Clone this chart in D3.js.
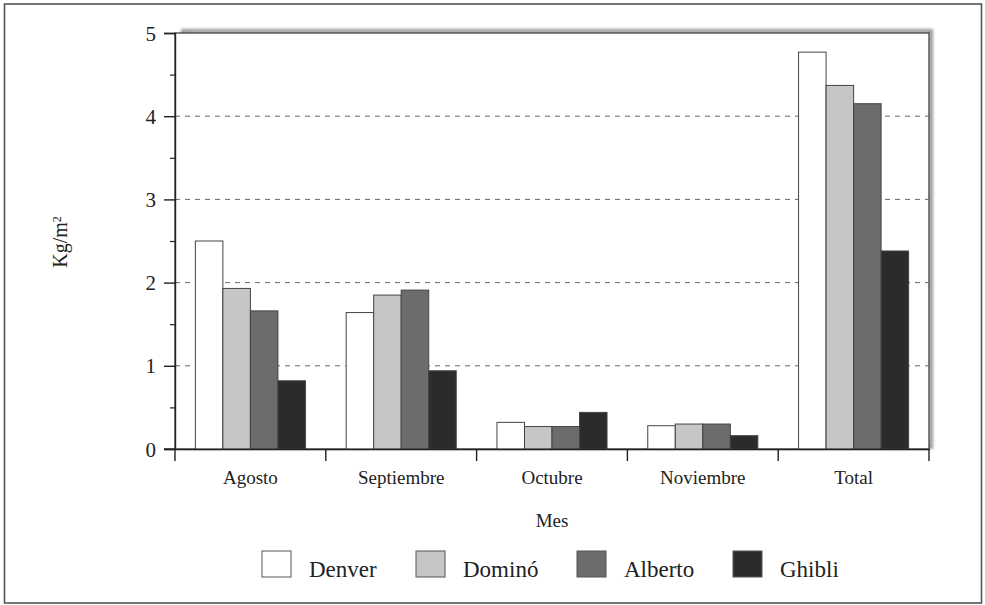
<!DOCTYPE html>
<html>
<head>
<meta charset="utf-8">
<script src="https://cdn.jsdelivr.net/npm/d3@7"></script>
<style>
  body { margin: 0; background: #fff; }
  svg { display: block; }
</style>
</head>
<body>
<script>
var width = 985;
var height = 605;
var serif = "'Liberation Serif', 'DejaVu Serif', 'Times New Roman', serif";

var months = ["Agosto", "Septiembre", "Octubre", "Noviembre", "Total"];
var varieties = ["Denver", "Dominó", "Alberto", "Ghibli"];
var colors = ["#ffffff", "#c6c6c6", "#6c6c6c", "#2b2b2b"];

// kg/m2 per variety, one value per month
var denver  = [2.50, 1.64, 0.32, 0.28, 4.77];
var domino  = [1.93, 1.85, 0.27, 0.30, 4.37];
var alberto = [1.66, 1.91, 0.27, 0.30, 4.15];
var ghibli  = [0.82, 0.94, 0.44, 0.16, 2.38];

var yTicks = [0, 1, 2, 3, 4, 5];
var yMinor = [0.5, 1.5, 2.5, 3.5, 4.5];

var series = [denver, domino, alberto, ghibli];

var margin = {left: 175, right: 55, top: 33, bottom: 156};

var svg = d3.select("body").append("svg")
    .attr("width", width)
    .attr("height", height)
    .attr("font-family", serif);

var defs = svg.append("defs");
var blur = defs.append("filter").attr("id", "shadow")
    .attr("x", "-5%").attr("y", "-5%").attr("width", "110%").attr("height", "110%");
blur.append("feGaussianBlur").attr("stdDeviation", 1.5);

// outer frame
svg.append("rect")
    .attr("x", 4.5).attr("y", 4).attr("width", 977).attr("height", 599)
    .attr("fill", "none").attr("stroke", "#555").attr("stroke-width", 1.6);

var x = d3.scaleBand()
    .domain(months)
    .range([margin.left, width - margin.right - 1]);

var x1 = d3.scaleBand()
    .domain(varieties)
    .range([0, x.bandwidth()])
    .paddingInner(0)
    .paddingOuter(0.74);

var y = d3.scaleLinear()
    .domain([0, 5])
    .range([height - margin.bottom, margin.top]);

var left = x.range()[0], right = x.range()[1];

// shadow of the plot box
svg.append("rect")
    .attr("x", left + 8).attr("y", y(5) - 2)
    .attr("width", right - left - 6).attr("height", y(0) - y(5))
    .attr("fill", "none").attr("stroke", "#999").attr("stroke-width", 4)
    .attr("filter", "url(#shadow)");

svg.append("rect")
    .attr("x", left).attr("y", y(5))
    .attr("width", right - left).attr("height", y(0) - y(5))
    .attr("fill", "#fff").attr("stroke", "#333").attr("stroke-width", 1.2);

// dashed grid
svg.append("g").selectAll("line")
    .data(yTicks.filter(function(d){ return d > 0 && d < 5; }))
    .join("line")
    .attr("x1", left).attr("x2", right)
    .attr("y1", function(d){ return y(d); })
    .attr("y2", function(d){ return y(d); })
    .attr("stroke", "#666").attr("stroke-width", 1)
    .attr("stroke-dasharray", "5,5");

// bars
var groups = svg.append("g").selectAll("g")
    .data(months)
    .join("g")
    .attr("transform", function(d){ return "translate(" + x(d) + ",0)"; });

groups.selectAll("rect")
    .data(function(m, i){
        return varieties.map(function(v, j){ return {v: v, j: j, value: series[j][i]}; });
    })
    .join("rect")
    .attr("x", function(d){ return x1(d.v); })
    .attr("width", x1.bandwidth())
    .attr("y", function(d){ return y(d.value); })
    .attr("height", function(d){ return y(0) - y(d.value); })
    .attr("fill", function(d){ return colors[d.j]; })
    .attr("stroke", "#444").attr("stroke-width", 1);

// y axis
var yAxis = svg.append("g")
    .attr("transform", "translate(" + left + ",0)")
    .call(d3.axisLeft(y).tickValues(yTicks).tickSize(11).tickPadding(8).tickFormat(d3.format("d")));
yAxis.attr("font-family", serif);
yAxis.select(".domain").attr("stroke", "#222").attr("stroke-width", 1.4);
yAxis.selectAll(".tick line").attr("stroke", "#222").attr("stroke-width", 1.4);
yAxis.selectAll("text").attr("font-size", 21).attr("fill", "#222").attr("dy", "0.34em");

svg.append("g")
    .attr("transform", "translate(" + left + ",0)")
    .call(d3.axisLeft(y).tickValues(yMinor).tickSize(5).tickFormat(""))
    .call(function(g){ g.select(".domain").remove(); })
    .selectAll("line").attr("stroke", "#222").attr("stroke-width", 1.2);

// x axis: ticks on category boundaries
var xAxis = svg.append("g")
    .attr("transform", "translate(0," + y(0) + ")")
    .call(d3.axisBottom(x).tickSize(0).tickPadding(22));
xAxis.attr("font-family", serif);
xAxis.select(".domain").attr("stroke", "#222").attr("stroke-width", 1.4);
xAxis.selectAll("text").attr("font-size", 19).attr("fill", "#222");

svg.append("g").selectAll("line")
    .data(months.map(function(m){ return x(m); }).concat([right]))
    .join("line")
    .attr("x1", function(d){ return d; }).attr("x2", function(d){ return d; })
    .attr("y1", y(0)).attr("y2", y(0) + 12)
    .attr("stroke", "#222").attr("stroke-width", 1.4);

svg.append("line")
    .attr("x1", left - 11).attr("x2", left)
    .attr("y1", y(0)).attr("y2", y(0))
    .attr("stroke", "#222").attr("stroke-width", 1.4);

// axis titles
svg.append("text")
    .attr("x", (left + right) / 2).attr("y", 527)
    .attr("text-anchor", "middle")
    .attr("font-size", 19).attr("fill", "#222")
    .text("Mes");

var yt = svg.append("text")
    .attr("transform", "translate(67,242) rotate(-90)")
    .attr("text-anchor", "middle")
    .attr("font-size", 20).attr("fill", "#222");
yt.append("tspan").text("Kg/m");
yt.append("tspan").attr("dy", "-0.5em").attr("font-size", 12).text("2");

// legend
var legendX = [262, 416, 577, 733];
var legend = svg.append("g").selectAll("g")
    .data(varieties)
    .join("g")
    .attr("transform", function(d, i){ return "translate(" + legendX[i] + ",551)"; });

legend.append("rect")
    .attr("width", 29).attr("height", 26)
    .attr("fill", function(d, i){ return colors[i]; })
    .attr("stroke", "#555").attr("stroke-width", 1);

legend.append("text")
    .attr("x", 47).attr("y", 26)
    .attr("font-size", 23).attr("fill", "#222")
    .text(function(d){ return d; });
</script>
</body>
</html>
